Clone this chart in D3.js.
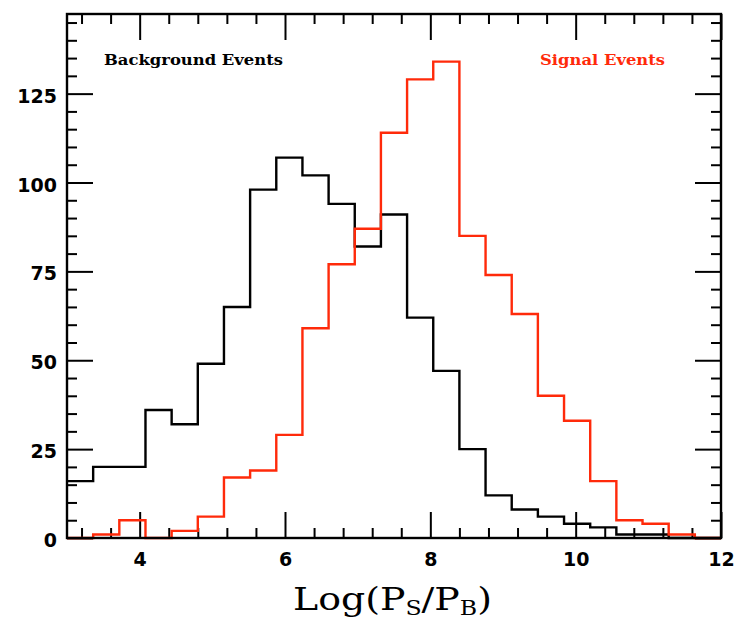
<!DOCTYPE html>
<html>
<head>
<meta charset="utf-8">
<script src="https://cdn.jsdelivr.net/npm/d3@7/dist/d3.min.js"></script>
<style>
  html, body { margin: 0; padding: 0; background: #fff; }
  svg { display: block; }
</style>
</head>
<body>
<svg id="chart" width="735" height="622"></svg>
<script>
// histogram: 25 bins of width 0.36 between 3 and 12
const binStart = 3;
const binWidth = 0.36;
const background = [16, 20, 20, 36, 32, 49, 65, 98, 107, 102, 94, 82, 91, 62, 47, 25, 12, 8, 6, 4, 3, 1, 1, 0, 0];
const signal = [0, 1, 5, 0, 2, 6, 17, 19, 29, 59, 77, 87, 114, 129, 134, 85, 74, 63, 40, 33, 16, 5, 4, 1, 0];
const xTickLabels = [4, 6, 8, 10, 12];
const yTickLabels = [0, 25, 50, 75, 100, 125];

const width = 735, height = 622;
const margin = { top: 14, right: 14, bottom: 84, left: 67 };
const innerW = width - margin.left - margin.right;
const innerH = height - margin.top - margin.bottom;
const red = '#ff2a0a';

const svg = d3.select('#chart');
const g = svg.append('g')
  .attr('transform', `translate(${margin.left},${margin.top})`);

const x = d3.scaleLinear().domain([3, 12]).range([0, innerW]);
const y = d3.scaleLinear().domain([0, 147.4]).range([innerH, 0]);

const xMinor = d3.range(8, 31).map(k => +(k * 0.4).toFixed(1)).filter(v => v % 2 !== 0);
const yMinor = d3.range(5, 150, 5).filter(v => v % 25 !== 0);

function styleTicks(sel) {
  sel.select('.domain').remove();
  sel.selectAll('line').attr('stroke', '#000').attr('stroke-width', 2);
}

// ticks on all four sides, pointing in
g.append('g').attr('transform', `translate(0,${innerH})`)
  .call(d3.axisBottom(x).tickValues(xTickLabels).tickSize(-26).tickPadding(15).tickFormat(d3.format('d')))
  .call(styleTicks)
  .call(s => s.selectAll('text')
    .attr('font-family', 'DejaVu Sans').attr('font-weight', 'bold').attr('font-size', 19).attr('fill', '#000'));
g.append('g').attr('transform', `translate(0,${innerH})`)
  .call(d3.axisBottom(x).tickValues(xMinor).tickSize(-10).tickFormat(''))
  .call(styleTicks);
g.append('g')
  .call(d3.axisTop(x).tickValues(xTickLabels).tickSize(-26).tickFormat(''))
  .call(styleTicks);
g.append('g')
  .call(d3.axisTop(x).tickValues(xMinor).tickSize(-10).tickFormat(''))
  .call(styleTicks);

g.append('g')
  .call(d3.axisLeft(y).tickValues(yTickLabels).tickSize(-26).tickPadding(10))
  .call(styleTicks)
  .call(s => s.selectAll('text')
    .attr('dy', '0.45em')
    .attr('font-family', 'DejaVu Sans').attr('font-weight', 'bold').attr('font-size', 19).attr('fill', '#000'));
g.append('g')
  .call(d3.axisLeft(y).tickValues(yMinor).tickSize(-10).tickFormat(''))
  .call(styleTicks);
g.append('g').attr('transform', `translate(${innerW},0)`)
  .call(d3.axisRight(y).tickValues(yTickLabels).tickSize(-26).tickFormat(''))
  .call(styleTicks);
g.append('g').attr('transform', `translate(${innerW},0)`)
  .call(d3.axisRight(y).tickValues(yMinor).tickSize(-10).tickFormat(''))
  .call(styleTicks);

// histograms
const step = d3.line()
  .x(d => x(d[0]))
  .y(d => y(d[1]))
  .curve(d3.curveStepAfter);

function points(values) {
  const pts = values.map((v, i) => [binStart + i * binWidth, v]);
  pts.push([binStart + values.length * binWidth, values[values.length - 1]]);
  return pts;
}

g.append('path')
  .attr('d', step(points(background)))
  .attr('fill', 'none')
  .attr('stroke', '#000')
  .attr('stroke-width', 2.4);

g.append('path')
  .attr('d', step(points(signal)))
  .attr('fill', 'none')
  .attr('stroke', red)
  .attr('stroke-width', 2.4);

// frame
g.append('rect')
  .attr('width', innerW)
  .attr('height', innerH)
  .attr('fill', 'none')
  .attr('stroke', '#000')
  .attr('stroke-width', 2.4);

// labels
g.append('text')
  .attr('x', 37).attr('y', 51)
  .attr('font-family', 'DejaVu Serif').attr('font-weight', 'bold').attr('font-size', 15)
  .attr('textLength', 179).attr('lengthAdjust', 'spacingAndGlyphs')
  .text('Background Events');

g.append('text')
  .attr('x', 473).attr('y', 51)
  .attr('fill', red)
  .attr('font-family', 'DejaVu Serif').attr('font-weight', 'bold').attr('font-size', 15)
  .attr('textLength', 125).attr('lengthAdjust', 'spacingAndGlyphs')
  .text('Signal Events');

const title = svg.append('text')
  .attr('x', 293)
  .attr('y', 610)
  .attr('font-family', 'DejaVu Serif')
  .attr('font-size', 32)
  .attr('textLength', 199).attr('lengthAdjust', 'spacingAndGlyphs')
  .attr('fill', '#000');
title.append('tspan').text('Log(P');
title.append('tspan').attr('dy', 5).attr('font-size', 20).text('S');
title.append('tspan').attr('dy', -5).text('/P');
title.append('tspan').attr('dy', 5).attr('font-size', 20).text('B');
title.append('tspan').attr('dy', -5).text(')');
</script>
</body>
</html>
